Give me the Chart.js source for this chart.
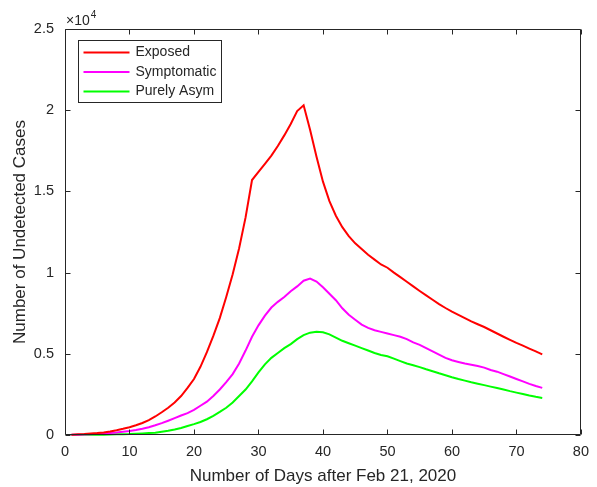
<!DOCTYPE html>
<html>
<head>
<meta charset="utf-8">
<script src="https://cdn.jsdelivr.net/npm/chart.js@4"></script>
<style>
  html, body { margin: 0; padding: 0; background: #fff; }
  #wrap { width: 597px; height: 487px; }
</style>
</head>
<body>
<div id="wrap"><canvas id="myChart" width="597" height="487"></canvas></div>
<script>
const AXIS_COLOR = '#262626';
const FONT = '"Liberation Sans", Arial, sans-serif';

const SERIES_NAMES = ['Exposed', 'Symptomatic', 'Purely Asym'];
const LINE_COLORS = ['#FF0000', '#FF00FF', '#00FF00'];

const X_TICKS = [0, 10, 20, 30, 40, 50, 60, 70, 80];
const Y_TICKS = [0, 5000, 10000, 15000, 20000, 25000];

// day 1 .. 74
const days = Array.from({ length: 74 }, (_, i) => i + 1);

const exposed = [
  20, 40, 60, 90, 120, 160, 220, 290, 380, 480,
  600, 740, 920, 1140, 1400, 1680, 2000, 2400, 2900, 3450,
  4200, 5100, 6100, 7200, 8500, 9900, 11500, 13400, 15700, 16200,
  16700, 17200, 17800, 18450, 19150, 19950, 20300, 18800, 17130, 15600,
  14400, 13500, 12800, 12250, 11800, 11450, 11100, 10800, 10500, 10300,
  10000, 9720, 9440, 9150, 8870, 8600, 8330, 8060, 7820, 7600,
  7400, 7200, 7000, 6820, 6650, 6450, 6250, 6050, 5860, 5670,
  5500, 5320, 5150, 4970,
];

const symptomatic = [
  10, 20, 30, 50, 70, 90, 120, 150, 200, 250,
  310, 390, 480, 600, 730, 880, 1040, 1200, 1350, 1550,
  1800, 2050, 2400, 2800, 3250, 3750, 4400, 5200, 6050, 6750,
  7350, 7850, 8200, 8500, 8850, 9150, 9500, 9630, 9450, 9100,
  8700, 8300, 7800, 7400, 7100, 6800, 6600, 6450, 6350, 6250,
  6150, 6050, 5900, 5700, 5550, 5350, 5150, 4950, 4750, 4600,
  4500, 4400, 4330, 4250, 4150, 4000, 3900, 3750, 3600, 3450,
  3300, 3150, 3020, 2900,
];

const purelyAsym = [
  3, 5, 8, 10, 15, 20, 30, 40, 50, 60,
  80, 100, 120, 140, 200, 260, 340, 430, 550, 670,
  800, 970, 1180, 1420, 1680, 2000, 2400, 2800, 3300, 3850,
  4350, 4750, 5050, 5350, 5600, 5900, 6150, 6300, 6350, 6320,
  6200, 6000, 5800, 5650, 5500, 5350, 5200, 5050, 4930, 4850,
  4700, 4550, 4400, 4300, 4180, 4050, 3930, 3800, 3680, 3560,
  3450, 3350, 3250, 3160, 3070, 2980, 2890, 2800, 2700, 2610,
  2520, 2430, 2350, 2280,
];

const seriesValues = [exposed, symptomatic, purelyAsym];

// frame, inward ticks, exponent label and boxed legend, MATLAB style
const matlabAxes = {
  id: 'matlabAxes',
  afterDraw(chart) {
    const { ctx, chartArea: a, scales: { x, y } } = chart;
    const L = Math.round(a.left) + 0.5;
    const R = Math.round(a.right) - 0.5;
    const T = Math.round(a.top) + 0.5;
    const B = Math.round(a.bottom) - 0.5;
    ctx.save();
    ctx.strokeStyle = AXIS_COLOR;
    ctx.lineWidth = 1;
    ctx.beginPath();
    ctx.rect(L, T, R - L, B - T);
    X_TICKS.forEach(v => {
      const px = Math.round(x.getPixelForValue(v)) + 0.5;
      ctx.moveTo(px, B); ctx.lineTo(px, B - 5);
      ctx.moveTo(px, T); ctx.lineTo(px, T + 5);
    });
    Y_TICKS.forEach(v => {
      const py = Math.round(y.getPixelForValue(v)) + 0.5;
      ctx.moveTo(L, py); ctx.lineTo(L + 5, py);
      ctx.moveTo(R, py); ctx.lineTo(R - 5, py);
    });
    ctx.stroke();

    // x10^4
    ctx.fillStyle = AXIS_COLOR;
    ctx.textBaseline = 'alphabetic';
    ctx.textAlign = 'left';
    ctx.font = '14px ' + FONT;
    ctx.fillText('\u00d710', a.left + 1, a.top - 4);
    const w = ctx.measureText('\u00d710').width;
    ctx.font = '10px ' + FONT;
    ctx.fillText('4', a.left + 2 + w, a.top - 11);

    // legend
    const lx = Math.round(a.left) + 13.5;
    const ly = Math.round(a.top) + 11.5;
    ctx.fillStyle = '#fff';
    ctx.fillRect(lx, ly, 143, 62);
    ctx.strokeStyle = AXIS_COLOR;
    ctx.strokeRect(lx, ly, 143, 62);
    ctx.font = '14px ' + FONT;
    ctx.textBaseline = 'middle';
    chart.data.datasets.forEach((ds, i) => {
      const ry = ly + 12 + i * 19.5;
      ctx.strokeStyle = ds.borderColor;
      ctx.lineWidth = 2;
      ctx.beginPath();
      ctx.moveTo(lx + 5, ry);
      ctx.lineTo(lx + 51, ry);
      ctx.stroke();
      ctx.fillStyle = AXIS_COLOR;
      ctx.fillText(ds.label, lx + 57, ry);
    });
    ctx.restore();
  },
};

const ctx = document.getElementById('myChart');

const myChart = new Chart(ctx, {
  type: 'line',
  data: {
    datasets: SERIES_NAMES.map((name, i) => ({
      label: name,
      data: days.map((d, j) => ({ x: d, y: seriesValues[i][j] })),
      borderColor: LINE_COLORS[i],
      backgroundColor: LINE_COLORS[i],
      borderWidth: 2,
      pointRadius: 0,
      tension: 0,
      fill: false,
      clip: false,
    })),
  },
  options: {
    responsive: false,
    devicePixelRatio: 1,
    animation: false,
    layout: {
      padding: { left: 0, right: 15, top: 29, bottom: 0 },
    },
    plugins: {
      legend: { display: false },
      tooltip: { enabled: false },
    },
    scales: {
      x: {
        type: 'linear',
        min: 0,
        max: 80,
        afterFit: (scale) => { scale.height = 52; },
        afterBuildTicks: (scale) => { scale.ticks = X_TICKS.map(v => ({ value: v })); },
        grid: { display: false, drawTicks: false },
        border: { display: false },
        ticks: {
          padding: 8,
          color: AXIS_COLOR,
          font: { family: FONT, size: 14.5 },
          maxRotation: 0,
        },
        title: {
          display: true,
          text: 'Number of Days after Feb 21, 2020',
          color: AXIS_COLOR,
          font: { family: FONT, size: 17 },
          padding: { top: 0, bottom: 0 },
        },
      },
      y: {
        min: 0,
        max: 25000,
        afterFit: (scale) => { scale.width = 65; },
        afterBuildTicks: (scale) => { scale.ticks = Y_TICKS.map(v => ({ value: v })); },
        grid: { display: false, drawTicks: false },
        border: { display: false },
        ticks: {
          padding: 11,
          color: AXIS_COLOR,
          font: { family: FONT, size: 14.5 },
          callback: (v) => String(v / 10000),
        },
        title: {
          display: true,
          text: 'Number of Undetected Cases',
          color: AXIS_COLOR,
          font: { family: FONT, size: 17 },
          padding: { top: 10, bottom: 0 },
        },
      },
    },
  },
  plugins: [matlabAxes],
});
</script>
</body>
</html>
